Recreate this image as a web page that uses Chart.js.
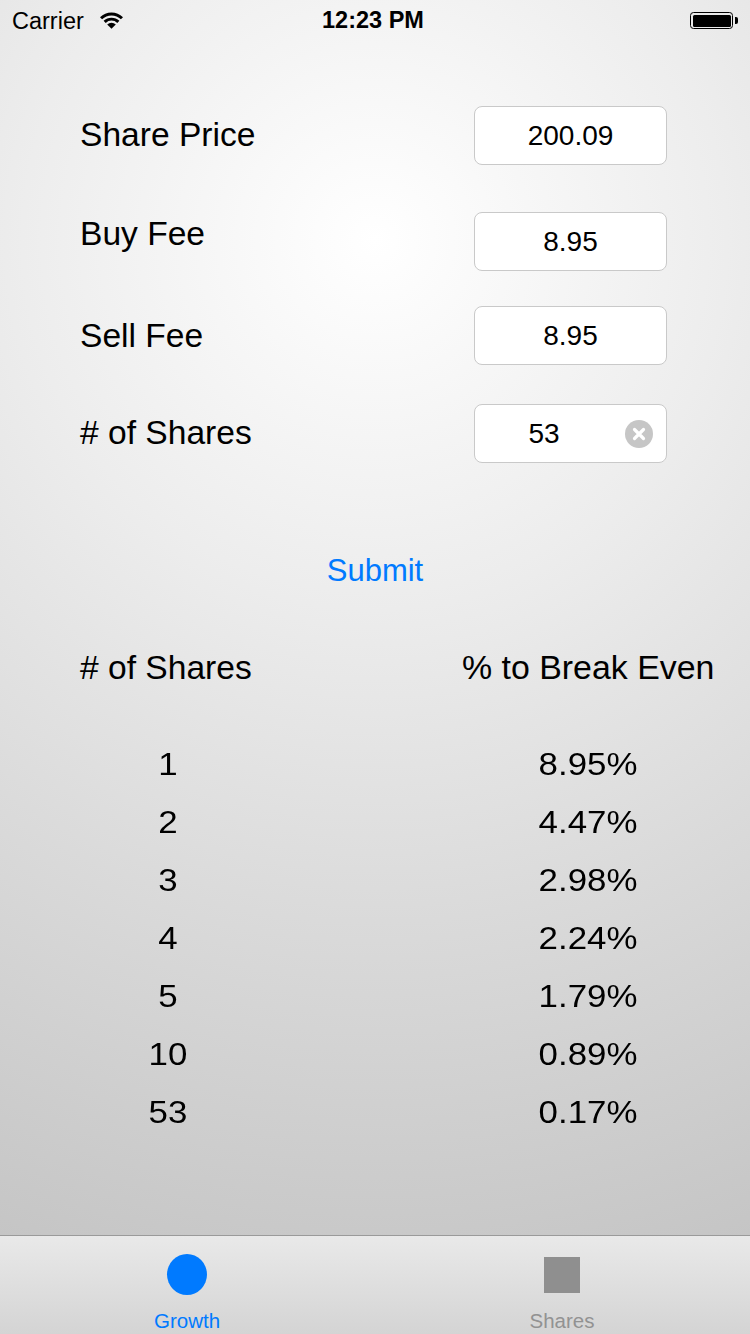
<!DOCTYPE html>
<html>
<head>
<meta charset="utf-8">
<script src="https://cdn.jsdelivr.net/npm/chart.js@4.4.0/dist/chart.umd.min.js"></script>
<style>
  html, body { margin:0; padding:0; }
  body {
    width:750px; height:1334px; position:relative; overflow:hidden;
    font-family:"Liberation Sans", Arial, Helvetica, sans-serif; color:#000;
    background: radial-gradient(circle 1100px at 375px 240px, #ffffff 0%, #ededed 32%, #dadada 62%, #c3c3c3 100%);
  }
  .abs { position:absolute; white-space:nowrap; line-height:1; }
  .lbl { font-size:33.6px; left:80px; }
  .field {
    position:absolute; left:474px; width:191px; height:57px;
    background:#fff; border:1px solid #c9c9c9; border-radius:8px;
    font-size:28px; line-height:57px; text-align:center;
  }
  .clear {
    position:absolute; width:28px; height:28px; border-radius:50%; background:#c6c6c6; line-height:0;
  }
  .clear svg { display:block; }
  #tabbar {
    position:absolute; left:0; top:1235px; width:750px; height:99px;
    border-top:1px solid #9a9a9a; box-sizing:border-box;
    background:linear-gradient(#e9e9e9, #d4d4d4);
  }
  #tablewrap { position:absolute; left:0; top:734px; width:750px; height:406px; }
</style>
</head>
<body>
<!-- status bar -->
<div class="abs" style="left:12px; top:9.5px; font-size:23.5px;">Carrier</div>
<svg class="abs" style="left:99px; top:11px;" width="25" height="19" viewBox="0 0 25 19">
  <path d="M1 6.2 A16.5 16.5 0 0 1 24 6.2 L21.9 8.3 A13.5 13.5 0 0 0 3.1 8.3 Z" fill="#000"/>
  <path d="M4.6 9.8 A11.5 11.5 0 0 1 20.4 9.8 L18.3 11.9 A8.5 8.5 0 0 0 6.7 11.9 Z" fill="#000"/>
  <path d="M8.2 13.4 A6.5 6.5 0 0 1 16.8 13.4 L12.5 17.8 Z" fill="#000"/>
</svg>
<div class="abs" style="left:0; width:746px; text-align:center; top:9px; font-size:23.5px; font-weight:bold;">12:23 PM</div>
<div class="abs" style="left:690px; top:12px; width:41px; height:15px; border:1.5px solid #000; border-radius:3.5px;">
  <div style="position:absolute; left:1.5px; top:1.5px; right:1.5px; bottom:1.5px; background:#000; border-radius:1.5px;"></div>
</div>
<div class="abs" style="left:734.5px; top:17px; width:3px; height:7px; background:#000; border-radius:0 2px 2px 0;"></div>

<!-- form -->
<div class="abs lbl" style="top:117.5px;">Share Price</div>
<div class="abs lbl" style="top:216.5px;">Buy Fee</div>
<div class="abs lbl" style="top:318.5px;">Sell Fee</div>
<div class="abs lbl" style="top:415.5px;"># of Shares</div>

<div class="field" style="top:106px;" id="f1"></div>
<div class="field" style="top:212px;" id="f2"></div>
<div class="field" style="top:306px;" id="f3"></div>
<div class="field" style="top:404px; text-align:left;"><span id="f4" style="position:absolute; left:38px; width:62px; text-align:center;"></span>
  <div class="clear" style="left:150px; top:15px;">
    <svg width="28" height="28" viewBox="0 0 28 28"><path d="M9.5 9.5 L18.5 18.5 M18.5 9.5 L9.5 18.5" stroke="#fff" stroke-width="3.2" stroke-linecap="round"/></svg>
  </div>
</div>

<div class="abs" style="left:0; width:750px; text-align:center; top:554.5px; font-size:31px; color:#007aff;">Submit</div>

<div class="abs" style="left:80px; top:650.5px; font-size:33.6px;"># of Shares</div>
<div class="abs" style="left:462px; top:650.5px; font-size:33.9px;">% to Break Even</div>

<div id="tablewrap"><canvas id="c"></canvas></div>

<!-- tab bar -->
<div id="tabbar">
  <div style="position:absolute; left:167px; top:18px; width:40px; height:41px; border-radius:50%; background:#007aff;"></div>
  <div style="position:absolute; left:544px; top:21px; width:36px; height:36px; background:#8f8f8f;"></div>
  <div class="abs" style="left:87px; width:200px; text-align:center; top:75px; font-size:20.5px; color:#007aff;">Growth</div>
  <div class="abs" style="left:462px; width:200px; text-align:center; top:75px; font-size:20.5px; color:#929292;">Shares</div>
</div>

<script>
// ---- data ----
const shareCounts = ["1", "2", "3", "4", "5", "10", "53"];
const breakEvenPercent = [8.95, 4.47, 2.98, 2.24, 1.79, 0.89, 0.17];
const formValues = ["200.09", "8.95", "8.95", "53"];

document.getElementById('f1').textContent = formValues[0];
document.getElementById('f2').textContent = formValues[1];
document.getElementById('f3').textContent = formValues[2];
document.getElementById('f4').textContent = formValues[3];

const textRows = {
  id: 'textRows',
  afterDatasetsDraw(chart) {
    const ctx = chart.ctx;
    const y = chart.scales.y;
    const ds = chart.data.datasets[0];
    const drawWide = (txt, cx, cy) => {
      ctx.save();
      ctx.translate(cx, cy);
      ctx.scale(1.09, 1);
      ctx.fillText(txt, 0, 0);
      ctx.restore();
    };
    ctx.save();
    ctx.fillStyle = '#000';
    ctx.font = '32px "Liberation Sans", Arial, sans-serif';
    ctx.textAlign = 'center';
    ctx.textBaseline = 'alphabetic';
    chart.data.labels.forEach((lab, i) => {
      const py = y.getPixelForValue(i) + 11.5;
      drawWide(lab, 168, py);
      drawWide(ds.data[i].toFixed(2) + '%', 588, py);
    });
    ctx.restore();
  }
};

new Chart(document.getElementById('c'), {
  type: 'bar',
  data: {
    labels: shareCounts,
    datasets: [{
      label: '% to Break Even',
      data: breakEvenPercent,
      backgroundColor: 'rgba(0,0,0,0)',
      borderWidth: 0
    }]
  },
  options: {
    indexAxis: 'y',
    responsive: true,
    maintainAspectRatio: false,
    animation: false,
    layout: { padding: 0 },
    plugins: { legend: { display: false }, tooltip: { enabled: false } },
    scales: {
      x: { display: false, min: 0, max: 10 },
      y: { display: false, offset: true }
    }
  },
  plugins: [textRows]
});
</script>
</body>
</html>
